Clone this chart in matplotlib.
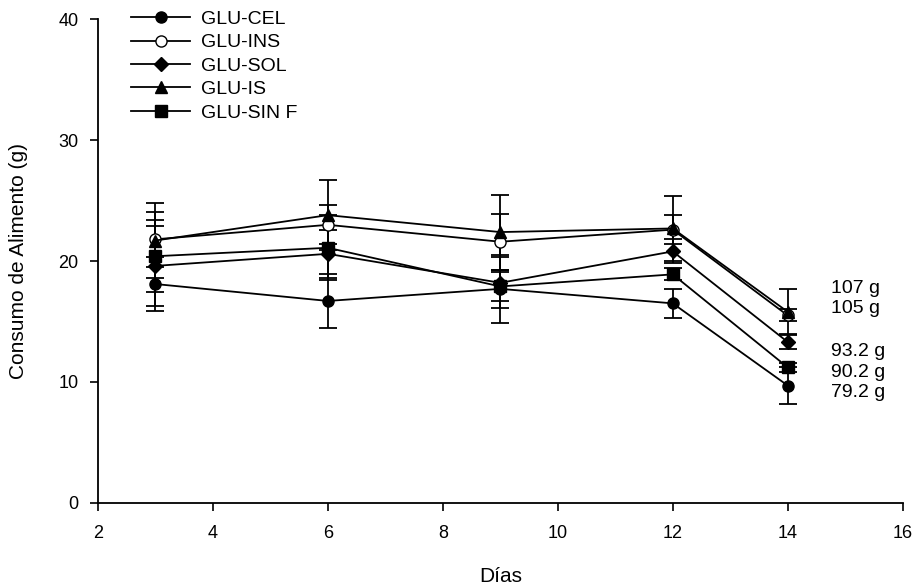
import matplotlib
matplotlib.use("Agg")
import matplotlib.pyplot as plt

plt.rcParams['font.family'] = ['Liberation Sans', 'DejaVu Sans']

# days of measurement
dias = [3, 6, 9, 12, 14]

# food consumption (g) per group, with error
cel = [18.1, 16.7, 17.7, 16.5, 9.7]
cel_err = [2.2, 2.2, 2.8, 1.2, 1.5]
ins = [21.8, 23.0, 21.6, 22.6, 15.5]
ins_err = [2.3, 1.6, 2.3, 1.2, 0.5]
sol = [19.6, 20.6, 18.2, 20.8, 13.3]
sol_err = [3.3, 2.0, 2.1, 1.0, 0.6]
isg = [21.7, 23.8, 22.4, 22.7, 15.8]
isg_err = [3.1, 2.9, 3.1, 2.7, 1.85]
sinf = [20.4, 21.1, 17.9, 18.9, 11.2]
sinf_err = [3.0, 2.7, 1.2, 0.5, 0.35]

totales = ["107 g", "105 g", "93.2 g", "90.2 g", "79.2 g"]
totales_y = [17.7, 16.1, 12.5, 10.8, 9.1]

fig = plt.figure(figsize=(9.23, 5.88), dpi=100)
ax = fig.add_axes([0.106, 0.145, 0.872, 0.822])

kw = dict(color='black', linewidth=1.3, elinewidth=1.3, capsize=6.5,
          capthick=1.3, markersize=8)
ax.errorbar(dias, cel, yerr=cel_err, marker='o', label="GLU-CEL", **kw)
ax.errorbar(dias, ins, yerr=ins_err, marker='o', markerfacecolor='white',
            label="GLU-INS", **kw)
ax.errorbar(dias, sol, yerr=sol_err, marker='D', label="GLU-SOL",
            **dict(kw, markersize=7.5))
ax.errorbar(dias, isg, yerr=isg_err, marker='^', label="GLU-IS", **kw)
ax.errorbar(dias, sinf, yerr=sinf_err, marker='s', label="GLU-SIN F", **kw)

for t, y in zip(totales, totales_y):
    ax.text(14.75, y, t, fontsize=14, va='center', ha='left')

ax.set_xlim(2, 16)
ax.set_ylim(0, 40)
ax.set_xticks([2, 4, 6, 8, 10, 12, 14, 16])
ax.set_yticks([0, 10, 20, 30, 40])
ax.spines['top'].set_visible(False)
ax.spines['right'].set_visible(False)
ax.spines['left'].set_linewidth(1.3)
ax.spines['bottom'].set_linewidth(1.3)
ax.tick_params(direction='out', length=6, width=1.2, labelsize=13)
ax.tick_params(axis='x', pad=10)
ax.tick_params(axis='y', pad=8)
ax.set_xlabel("Días", fontsize=15, labelpad=18)
ax.set_ylabel("Consumo de Alimento (g)", fontsize=15, labelpad=22)

handles, labels = ax.get_legend_handles_labels()
handles = [h[0] for h in handles]
ax.legend(handles, labels, loc='upper left', bbox_to_anchor=(0.02, 1.055),
          frameon=False, fontsize=14, handlelength=3.0, handletextpad=0.6,
          labelspacing=0.3)

fig.savefig("out.png", dpi=100)
